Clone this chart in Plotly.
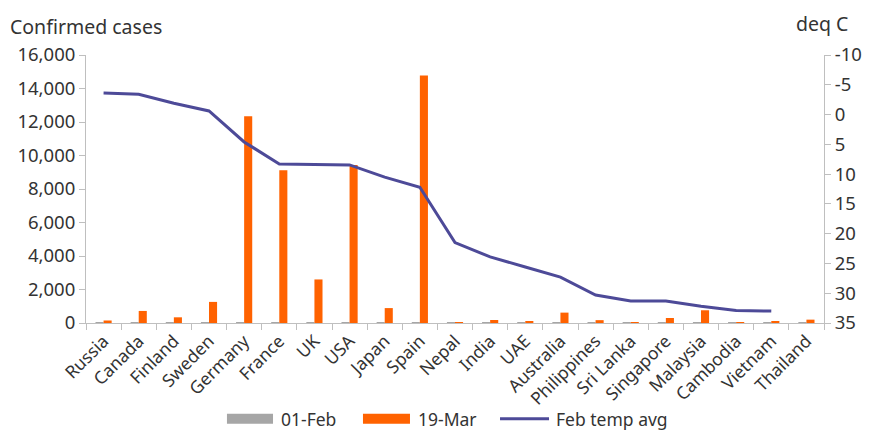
import plotly.graph_objects as go

countries = ["Russia", "Canada", "Finland", "Sweden", "Germany", "France", "UK", "USA",
             "Japan", "Spain", "Nepal", "India", "UAE", "Australia", "Philippines",
             "Sri Lanka", "Singapore", "Malaysia", "Cambodia", "Vietnam", "Thailand"]
cases_01feb = [2, 4, 1, 1, 8, 6, 2, 8, 20, 1, 1, 1, 4, 12, 1, 1, 18, 8, 1, 6, 19]
cases_19mar = [150, 720, 340, 1260, 12340, 9120, 2600, 9440, 890, 14780, 1, 180, 90, 620,
               170, 50, 300, 760, 40, 70, 200]
feb_temp_avg = [-3.6, -3.4, -1.9, -0.6, 4.6, 8.3, 8.4, 8.45, 10.5, 12.2, 21.5, 23.9, 25.6,
                27.3, 30.3, 31.3, 31.3, 32.2, 32.9, 33.0, None]

left_ticks = [0, 2000, 4000, 6000, 8000, 10000, 12000, 14000, 16000]
right_ticks = [-10, -5, 0, 5, 10, 15, 20, 25, 30, 35]
right_labels = [str(v) for v in right_ticks]

GRAY = "#A6A6A6"
ORANGE = "#FF6200"
PURPLE = "#4D4A98"
AXIS = "#BFBFBF"
TXT = "#333333"
FONT = "Noto Sans"

fig = go.Figure()
fig.add_trace(go.Bar(x=countries, y=cases_01feb, name="01-Feb", marker_color=GRAY,
                     marker_line_width=0))
fig.add_trace(go.Bar(x=countries, y=cases_19mar, name="19-Mar", marker_color=ORANGE,
                     marker_line_width=0))
fig.add_trace(go.Scatter(x=countries, y=feb_temp_avg, name="Feb temp avg", mode="lines",
                         line=dict(color=PURPLE, width=3), yaxis="y2"))

# custom legend (paper coordinates)
LY = -0.357
legend_items = [
    ("rect", GRAY, 0.191, 0.2534, "01-Feb", 0.2615),
    ("rect", ORANGE, 0.3753, 0.439, "19-Mar", 0.447),
    ("line", PURPLE, 0.561, 0.6274, "Feb temp avg", 0.634),
]
shapes = []
annotations = []
for kind, col, x0, x1, label, tx in legend_items:
    if kind == "rect":
        shapes.append(dict(type="rect", xref="paper", yref="paper", x0=x0, x1=x1,
                           y0=LY - 0.019, y1=LY + 0.0185, fillcolor=col, line_width=0))
    else:
        shapes.append(dict(type="line", xref="paper", yref="paper", x0=x0, x1=x1,
                           y0=LY, y1=LY, line=dict(color=col, width=3)))
    annotations.append(dict(text=label, xref="paper", yref="paper", x=tx, y=LY,
                            xanchor="left", yanchor="middle", showarrow=False,
                            font=dict(size=17.5, color=TXT)))

annotations += [
    dict(text="Confirmed cases", xref="paper", yref="paper", x=-0.106, y=1.05,
         xanchor="left", yanchor="bottom", showarrow=False,
         font=dict(size=19.5, color=TXT)),
    dict(text="deq C", xref="paper", yref="paper", x=1.035, y=1.06,
         xanchor="right", yanchor="bottom", showarrow=False,
         font=dict(size=19.5, color=TXT)),
]

fig.update_layout(
    width=870, height=430,
    margin=dict(l=78, r=54, t=47, b=115, autoexpand=False),
    paper_bgcolor="white", plot_bgcolor="white",
    font=dict(family=FONT, size=18, color=TXT),
    barmode="group", bargap=0.54, bargroupgap=0,
    showlegend=False,
    shapes=shapes,
    annotations=annotations,
    xaxis=dict(showline=True, linecolor=AXIS, linewidth=1, ticks="outside",
               tickson="boundaries", ticklen=6, tickcolor=AXIS, tickangle=-45,
               tickfont=dict(size=17.5, color=TXT), showgrid=False, automargin=False),
    yaxis=dict(range=[0, 16000], tickvals=left_ticks, tickformat=",d",
               showline=True, linecolor=AXIS, ticks="outside", ticklen=6,
               tickcolor=AXIS, showgrid=False, zeroline=False, automargin=False,
               tickfont=dict(size=18.5, color=TXT)),
    yaxis2=dict(range=[35, -10], tickvals=right_ticks, ticktext=right_labels,
                overlaying="y", side="right",
                showline=True, linecolor=AXIS, ticks="outside", ticklen=6,
                tickcolor=AXIS, showgrid=False, zeroline=False, automargin=False,
                tickfont=dict(size=18.5, color=TXT)),
)

fig.write_html("out.html")
